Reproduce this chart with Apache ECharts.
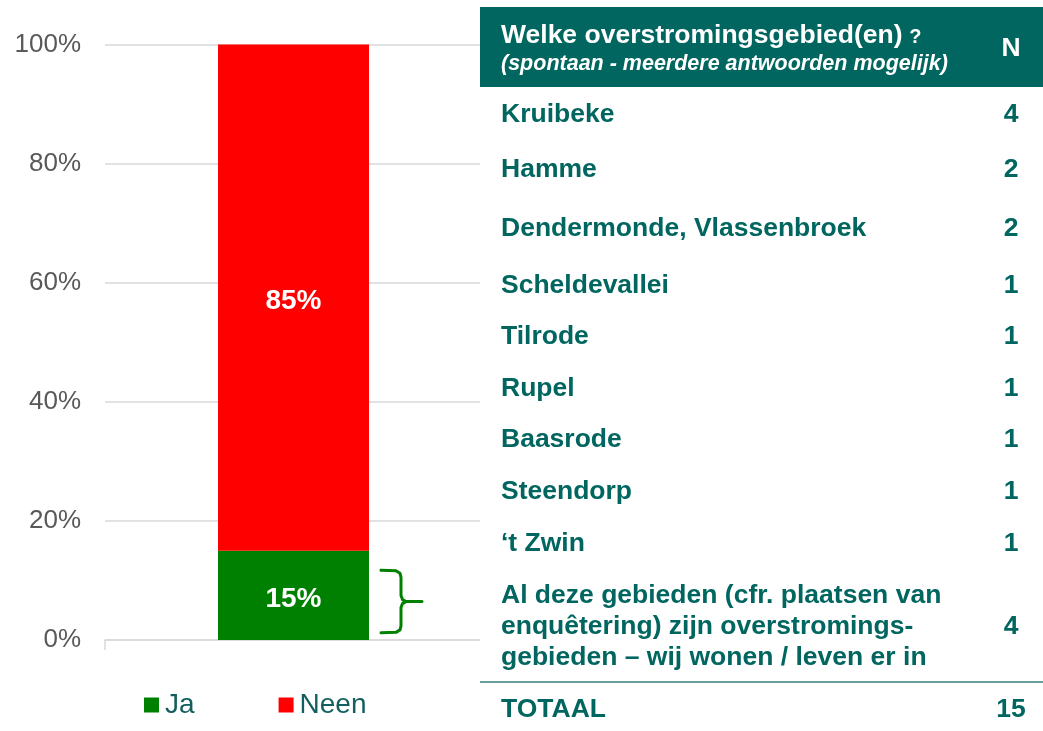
<!DOCTYPE html>
<html>
<head>
<meta charset="utf-8">
<script src="https://cdn.jsdelivr.net/npm/echarts@6/dist/echarts.min.js"></script>
<style>
  html, body { margin: 0; padding: 0; background: #fff; }
  #chart { width: 1043px; height: 731px; }
</style>
</head>
<body>
<div id="chart"></div>
<script>
// gegevens
const categories = [''];
const jaValues = [15];
const neenValues = [85];
const seriesNames = ['Ja', 'Neen'];

const tableTitle = 'Welke overstromingsgebied(en)';
const tableSubtitle = '(spontaan - meerdere antwoorden mogelijk)';
const areaNames = [
  'Kruibeke',
  'Hamme',
  'Dendermonde, Vlassenbroek',
  'Scheldevallei',
  'Tilrode',
  'Rupel',
  'Baasrode',
  'Steendorp',
  '\u2018t Zwin',
  'Al deze gebieden (cfr. plaatsen van\nenquêtering) zijn overstromings-\ngebieden \u2013 wij wonen / leven er in'
];
const areaCounts = [4, 2, 2, 1, 1, 1, 1, 1, 1, 4];
const totalLabel = 'TOTAAL';
const totalCount = 15;
// accolade naast het Ja-deel (in %)
const braceRange = [1.2, 11.7];

const FONT = '"Liberation Sans", Arial, sans-serif';
const TEAL = '#00665f';
const GREEN = '#008000';
const RED = '#ff0000';
const BAR_WIDTH = 151;
const ROW_FONT = 'bold 26.5px ' + FONT;

const chart = echarts.init(document.getElementById('chart'));

const barLabel = {
  show: true, position: 'inside', formatter: '{c}%', offset: [0, 4],
  color: '#fff', fontSize: 28, fontWeight: 'bold', fontFamily: FONT
};

chart.setOption({
  animation: false,
  textStyle: { fontFamily: FONT },
  grid: { left: 105, width: 377, top: 44.5, bottom: 91 },
  legend: {
    left: 144, top: 691, padding: 0,
    itemWidth: 15, itemHeight: 15, itemGap: 84,
    icon: 'rect',
    textStyle: { fontSize: 28, color: '#135e5e', fontFamily: FONT, padding: [0, 0, 0, 1] },
    data: seriesNames
  },
  xAxis: {
    type: 'category',
    data: categories,
    axisLine: { lineStyle: { color: '#d9d9d9', width: 1.5 } },
    axisTick: { show: true, length: 10, lineStyle: { color: '#d9d9d9', width: 1.5 } },
    axisLabel: { show: false }
  },
  yAxis: {
    type: 'value',
    min: 0, max: 100, interval: 20,
    axisLine: { show: false },
    axisTick: { show: false },
    axisLabel: { formatter: '{value}%', fontSize: 26, color: '#595959', margin: 24, padding: [4, 0, 0, 0], fontFamily: FONT },
    splitLine: { lineStyle: { color: '#d9d9d9', width: 1.5 } }
  },
  series: [
    { name: seriesNames[0], type: 'bar', stack: 'tot', data: jaValues, barWidth: BAR_WIDTH, itemStyle: { color: GREEN }, label: barLabel },
    { name: seriesNames[1], type: 'bar', stack: 'tot', data: neenValues, barWidth: BAR_WIDTH, itemStyle: { color: RED }, label: barLabel }
  ]
});

// accolade
const barCx = chart.convertToPixel({ xAxisIndex: 0 }, 0);
const yTop = chart.convertToPixel({ yAxisIndex: 0 }, braceRange[1]);
const yBot = chart.convertToPixel({ yAxisIndex: 0 }, braceRange[0]);
const bx0 = barCx + BAR_WIDTH / 2 + 12;
const bx1 = bx0 + 20;
const yMid = (yTop + yBot) / 2;
const braceStyle = { stroke: GREEN, lineWidth: 3, fill: null, lineJoin: 'round', lineCap: 'round' };
const brace = [
  { type: 'polyline', z: 10, shape: { points: [[bx0, yTop], [bx1 - 5, yTop + 0.5], [bx1 - 1, yTop + 3], [bx1, yTop + 7], [bx1, yMid - 6], [bx1 + 1.5, yMid - 2], [bx1 + 5, yMid], [bx1 + 21, yMid]] }, style: braceStyle },
  { type: 'polyline', z: 10, shape: { points: [[bx1 + 5, yMid], [bx1 + 1.5, yMid + 2], [bx1, yMid + 6], [bx1, yBot - 7], [bx1 - 1, yBot - 3], [bx1 - 5, yBot - 0.5], [bx0, yBot]] }, style: braceStyle }
];

// tabel rechts
const TX = 480, TW = 563;
const rowCenters = [115, 170, 229, 286, 337, 389, 440, 492, 544, 627];
const numX = 1011;
const table = [
  { type: 'rect', z: 20, shape: { x: TX, y: 0, width: TW, height: 731 }, style: { fill: '#fff' } },
  { type: 'rect', z: 21, shape: { x: TX, y: 7, width: TW, height: 80 }, style: { fill: TEAL } },
  {
    type: 'text', z: 22,
    style: {
      x: 501, y: 36, text: '{t|' + tableTitle + '}  {q|?}', textVerticalAlign: 'middle',
      rich: {
        t: { font: 'bold 26.5px ' + FONT, fill: '#fff' },
        q: { font: 'bold 20px ' + FONT, fill: '#fff', padding: [3, 0, 0, 0] }
      }
    }
  },
  { type: 'text', z: 22, style: { x: 501, y: 64, text: tableSubtitle, font: 'italic bold 21.5px ' + FONT, fill: '#fff', textVerticalAlign: 'middle' } },
  { type: 'text', z: 22, style: { x: numX, y: 49, text: 'N', font: ROW_FONT, fill: '#fff', textAlign: 'center', textVerticalAlign: 'middle' } },
  { type: 'line', z: 21, shape: { x1: TX, y1: 682, x2: TX + TW, y2: 682 }, style: { stroke: '#6a9e9c', lineWidth: 2 } },
  { type: 'text', z: 22, style: { x: 501, y: 710, text: totalLabel, font: ROW_FONT, fill: TEAL, textVerticalAlign: 'middle' } },
  { type: 'text', z: 22, style: { x: numX, y: 710, text: String(totalCount), font: ROW_FONT, fill: TEAL, textAlign: 'center', textVerticalAlign: 'middle' } }
];
areaNames.forEach((name, i) => {
  table.push({ type: 'text', z: 22, style: { x: 501, y: rowCenters[i], text: name, font: ROW_FONT, lineHeight: 31, fill: TEAL, textVerticalAlign: 'middle' } });
  table.push({ type: 'text', z: 22, style: { x: numX, y: rowCenters[i], text: String(areaCounts[i]), font: ROW_FONT, fill: TEAL, textAlign: 'center', textVerticalAlign: 'middle' } });
});

chart.setOption({ graphic: brace.concat(table) });
</script>
</body>
</html>
